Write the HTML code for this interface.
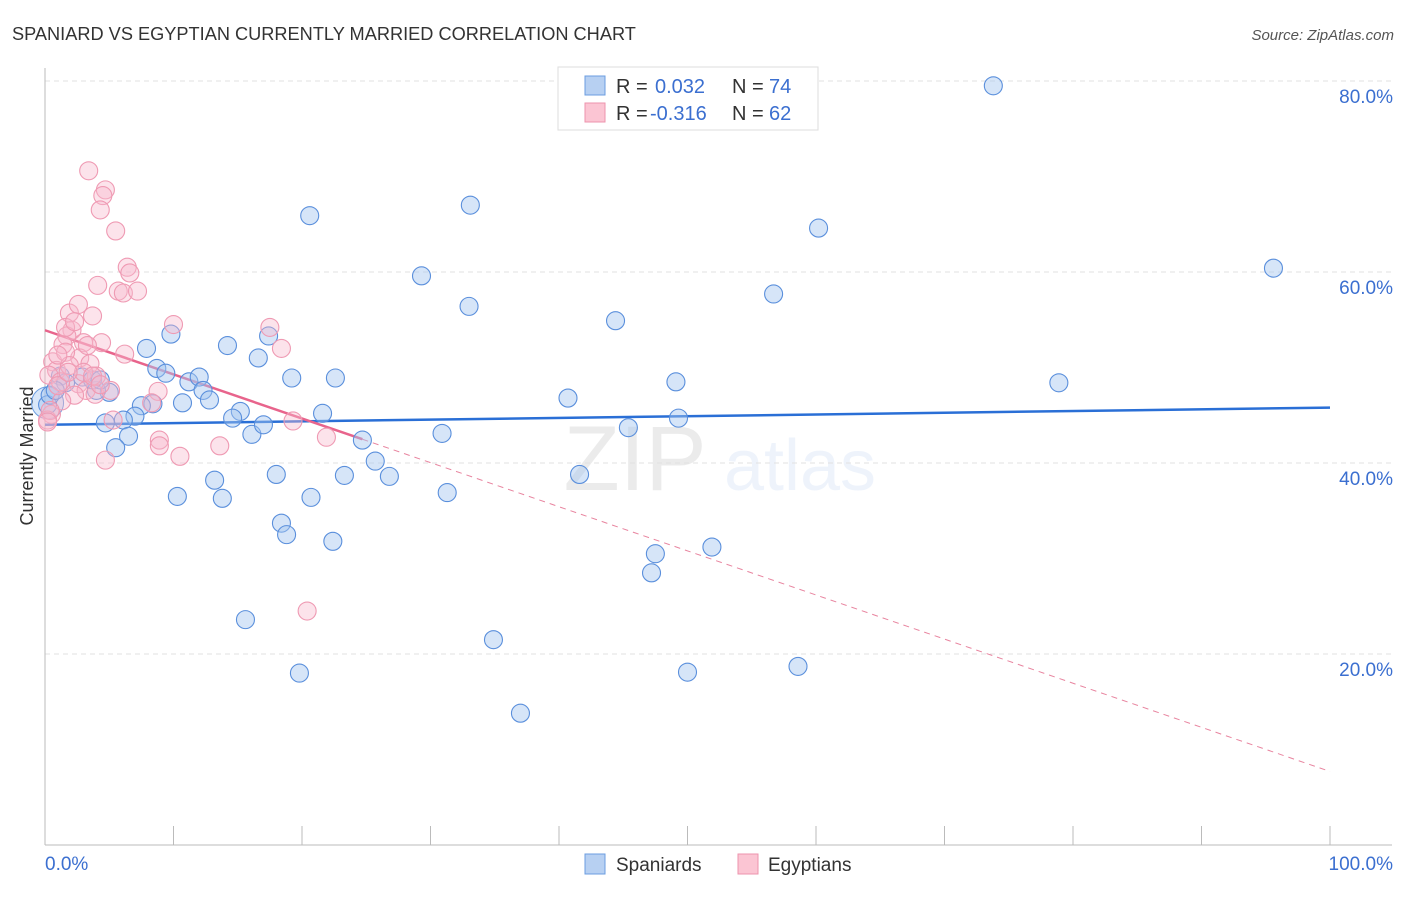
<!DOCTYPE html>
<html><head><meta charset="utf-8"><style>
body{margin:0;background:#fff;font-family:"Liberation Sans",sans-serif;}
svg text{font-family:"Liberation Sans",sans-serif;}
</style></head><body>
<svg id="chart" width="1406" height="892" viewBox="0 0 1406 892" xmlns="http://www.w3.org/2000/svg">
<text x="12" y="40" font-size="18.2" fill="#333">SPANIARD VS EGYPTIAN CURRENTLY MARRIED CORRELATION CHART</text>
<text x="1394" y="40" font-size="15" fill="#555" text-anchor="end" font-style="italic">Source: ZipAtlas.com</text>
<text transform="translate(33,456) rotate(-90)" font-size="18" fill="#333" text-anchor="middle">Currently Married</text>
<g opacity="0.12">
<text x="635" y="490" font-size="92" font-family="Liberation Serif" fill="#666" text-anchor="middle">ZIP</text>
<text x="800" y="490" font-size="72" fill="#7aa6e6" text-anchor="middle">atlas</text>
</g>
<g id="grid"></g><g id="axes"></g><g id="trend"></g><g id="pts"></g>
<g>
<rect x="558" y="67" width="260" height="63" fill="#fff" stroke="#ddd"/>
<rect x="585" y="76" width="20" height="19" fill="#b7d0f2" stroke="#6b9de0"/>
<rect x="585" y="103" width="20" height="19" fill="#fbc5d3" stroke="#ee93ad"/>
<text x="616" y="93" font-size="20" fill="#333">R =</text><text x="655" y="93" font-size="20" fill="#3b6fd0">0.032</text>
<text x="732" y="93" font-size="20" fill="#333">N =</text><text x="769" y="93" font-size="20" fill="#3b6fd0">74</text>
<text x="616" y="120" font-size="20" fill="#333">R =</text><text x="650" y="120" font-size="20" fill="#3b6fd0">-0.316</text>
<text x="732" y="120" font-size="20" fill="#333">N =</text><text x="769" y="120" font-size="20" fill="#3b6fd0">62</text>
</g>
<g>
<rect x="585" y="854" width="20" height="20" fill="#b7d0f2" stroke="#6b9de0"/>
<text x="616" y="871" font-size="19" fill="#333">Spaniards</text>
<rect x="738" y="854" width="20" height="20" fill="#fbc5d3" stroke="#ee93ad"/>
<text x="768" y="871" font-size="19" fill="#333">Egyptians</text>
</g>
</svg>
<script>
const yTicks=[20,40,60,80];
const yTickLabels=["20.0%","40.0%","60.0%","80.0%"];
const xEndLabels=["0.0%","100.0%"];
const spaniardsX=[73.8,20.6,33.1,60.2,95.6,29.3,33.0,56.7,44.4,9.8,7.9,14.2,17.4,16.6,8.7,9.4,11.2,12.0,12.3,12.8,10.7,8.4,7.5,7.0,5.0,4.0,1.2,1.6,2.9,3.7,19.2,22.6,49.1,78.9,40.7,15.2,14.6,21.6,4.7,6.1,6.5,5.5,16.1,17.0,24.7,30.9,45.4,49.3,25.7,23.3,26.8,41.6,18.0,13.2,10.3,13.8,20.7,31.3,18.4,18.8,22.4,51.9,47.5,47.2,15.6,34.9,58.6,50.0,19.8,37.0,0.2,0.4,0.8,4.3];
const spaniardsY=[79.5,65.9,67.0,64.6,60.4,59.6,56.4,57.7,54.9,53.5,52.0,52.3,53.3,51.0,49.9,49.4,48.5,49.0,47.6,46.6,46.3,46.2,46.0,44.9,47.4,47.6,49.1,48.4,49.0,48.7,48.9,48.9,48.5,48.4,46.8,45.4,44.7,45.2,44.2,44.5,42.8,41.6,43.0,44.0,42.4,43.1,43.7,44.7,40.2,38.7,38.6,38.8,38.8,38.2,36.5,36.3,36.4,36.9,33.7,32.5,31.8,31.2,30.5,28.5,23.6,21.5,18.7,18.1,18.0,13.8,46.1,47.1,47.6,48.7];
const egyptiansX=[3.4,4.7,4.5,4.3,5.5,6.4,6.6,5.7,6.1,7.2,4.1,1.9,2.6,3.7,2.1,1.7,1.4,3.0,4.4,10.0,17.5,18.4,6.2,0.6,0.9,0.3,2.7,3.5,4.0,2.6,3.2,3.9,5.1,8.8,8.3,1.2,2.3,0.5,0.2,5.3,8.9,8.9,10.5,4.7,13.6,19.3,21.9,20.4,1.6,1.9,1.0,3.3,1.6,2.3,1.3,0.4,1.0,3.0,3.7,1.8,4.3,0.2];
const egyptiansY=[70.6,68.6,68.0,66.5,64.3,60.5,59.9,58.0,57.8,58.0,58.6,55.7,56.6,55.4,53.9,53.3,52.4,52.6,52.6,54.5,54.2,52.0,51.4,50.6,49.7,49.2,51.0,50.4,49.1,48.3,47.6,47.2,47.6,47.5,46.3,48.5,47.1,45.1,44.5,44.5,42.4,41.8,40.7,40.3,41.8,44.4,42.7,24.5,51.6,50.2,51.3,52.3,54.2,54.8,46.5,45.5,48.1,49.5,49.1,49.5,48.2,44.3];
const blueTrend=[44.0,45.8];
const pinkTrend=[53.9,7.7];
const pinkSolidEnd=24.7;

const NS="http://www.w3.org/2000/svg";
const X=v=>45+v*12.85, Y=v=>845-v*9.55;
function mk(tag,attrs,parent){const e=document.createElementNS(NS,tag);for(const k in attrs)e.setAttribute(k,attrs[k]);document.getElementById(parent).appendChild(e);return e;}
yTicks.forEach((t,i)=>{
 const g=mk('line',{x1:45,x2:1392,y1:Y(t),y2:Y(t),stroke:'#e2e2e2','stroke-dasharray':'5,4'},'grid');
 
 
 const tx=mk('text',{x:1393,y:Y(t)+22,'font-size':19,fill:'#3b6fd0','text-anchor':'end'},'grid');
 tx.textContent=yTickLabels[i];
 
 
});
const ax=mk('line',{x1:45,x2:45,y1:68,y2:845,stroke:'#bbb'},'axes');


const bx=mk('line',{x1:45,x2:1392,y1:845,y2:845,stroke:'#bbb'},'axes');


for(let i=0;i<=10;i++){const t=mk('line',{x1:X(i*10),x2:X(i*10),y1:826,y2:845,stroke:'#bbb'},'axes');
 
 }
[[0,'start',45],[1,'end',1393]].forEach(([i,a,x])=>{const t=mk('text',{x:x,y:870,'font-size':19,fill:'#3b6fd0','text-anchor':a},'axes');t.textContent=xEndLabels[i];
 
 });
const big=mk('circle',{cx:X(0.2),cy:Y(46.3),r:16,fill:'rgba(160,195,240,0.4)',stroke:'#6b9de0','stroke-width':1},'pts');


spaniardsX.forEach((x,i)=>{const c=mk('circle',{cx:X(x),cy:Y(spaniardsY[i]),r:9,fill:'rgba(165,198,240,0.45)',stroke:'#5a8fdc','stroke-width':1.1},'pts');
 
 });
egyptiansX.forEach((x,i)=>{const c=mk('circle',{cx:X(x),cy:Y(egyptiansY[i]),r:9,fill:'rgba(248,185,205,0.4)',stroke:'#ef9ab3','stroke-width':1.1},'pts');
 
 });
const bl=mk('line',{x1:X(0),y1:Y(blueTrend[0]),x2:X(100),y2:Y(blueTrend[1]),stroke:'#2a6fd6','stroke-width':2.5},'trend');


const py=x=>pinkTrend[0]+(pinkTrend[1]-pinkTrend[0])*x/100;
const ps=mk('line',{x1:X(0),y1:Y(py(0)),x2:X(pinkSolidEnd),y2:Y(py(pinkSolidEnd)),stroke:'#e8648c','stroke-width':2.5},'trend');


const pd=mk('line',{x1:X(pinkSolidEnd),y1:Y(py(pinkSolidEnd)),x2:X(100),y2:Y(py(100)),stroke:'#e8849f','stroke-width':1,'stroke-dasharray':'6,5'},'trend');


</script>
</body></html>
